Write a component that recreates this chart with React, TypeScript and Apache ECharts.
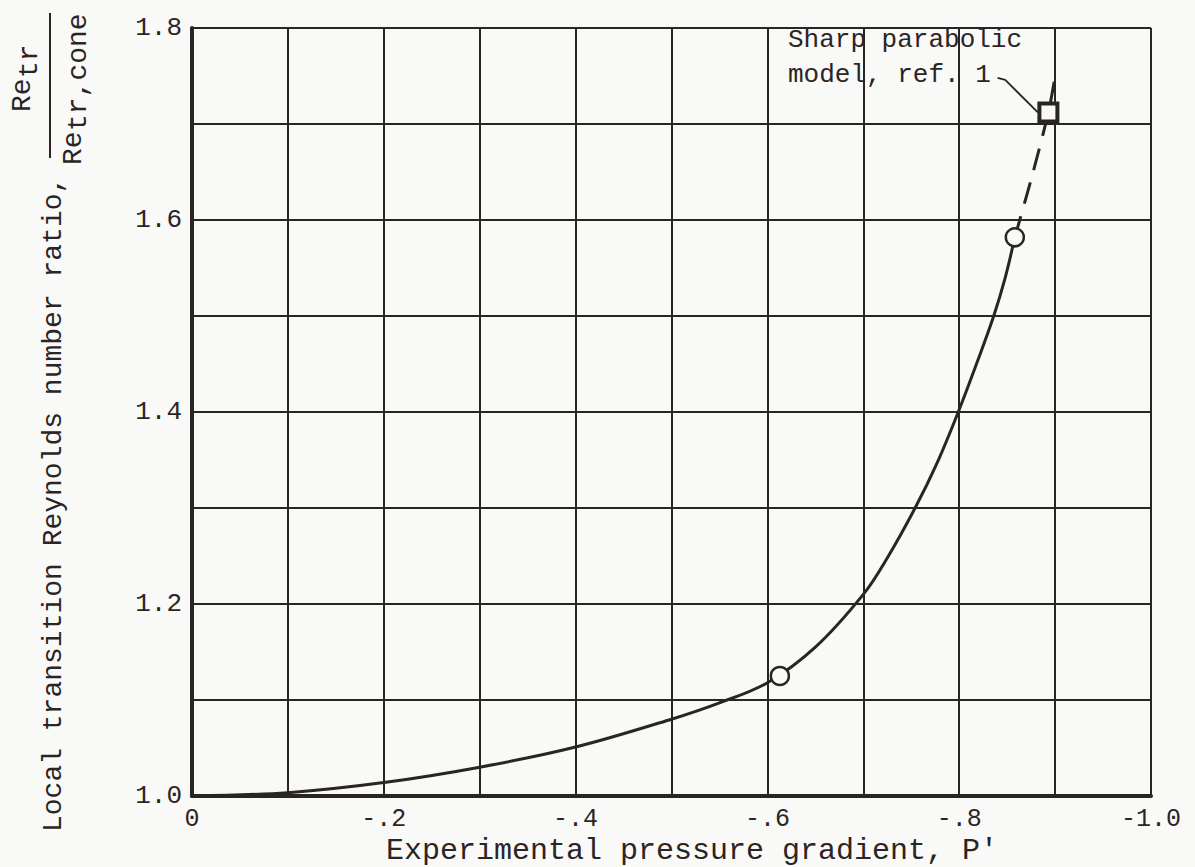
import React, { useEffect, useRef } from "react";
import * as echarts from "echarts";

// ---- data ----
const xTickLabels = ["0", "-.2", "-.4", "-.6", "-.8", "-1.0"];
const yTickLabels = ["1.0", "1.2", "1.4", "1.6", "1.8"];

// faired curve (solid part)
const solidCurveX = [0, -0.1, -0.2, -0.3, -0.4, -0.5, -0.55, -0.6, -0.65, -0.7, -0.725, -0.754, -0.777, -0.799, -0.818, -0.836, -0.848, -0.858];
const solidCurveY = [1.0, 1.0035, 1.014, 1.03, 1.051, 1.08, 1.097, 1.118, 1.155, 1.21, 1.248, 1.3, 1.347, 1.4, 1.45, 1.5, 1.54, 1.582];

// extrapolated curve (dashed part)
const dashedCurveX = [-0.858, -0.876, -0.893, -0.899];
const dashedCurveY = [1.582, 1.646, 1.712, 1.744];

// experimental points (circles)
const expX = [-0.613, -0.858];
const expY = [1.125, 1.582];

// sharp parabolic model, ref. 1 (square)
const refX = [-0.893];
const refY = [1.712];

// leader line from annotation to square
const leaderX = [-0.84, -0.848, -0.882];
const leaderY = [1.748, 1.746, 1.712];

const zip = (xs: number[], ys: number[]) => xs.map((x, i) => [x, ys[i]]);

const ink = "#2a2525";
const paper = "#f9f9f7";
const mono = "'Liberation Mono', 'DejaVu Sans Mono', monospace";

export default function App() {
  const ref = useRef<HTMLDivElement>(null);

  useEffect(() => {
    if (!ref.current) return;
    const chart = echarts.init(ref.current, undefined, { renderer: "svg" });

    const rotText = (text: string, x: number, y: number, size = 28) => ({
      type: "text",
      x,
      y,
      rotation: Math.PI / 2,
      style: {
        text,
        font: `${size}px ${mono}`,
        fill: ink,
        textAlign: "left",
        textVerticalAlign: "middle",
      },
      silent: true,
    });

    const option: any = {
      animation: false,
      backgroundColor: paper,
      grid: { left: 192, right: 44, top: 28, bottom: 71, containLabel: false },
      xAxis: {
        type: "value",
        min: -1,
        max: 0,
        interval: 0.1,
        inverse: true,
        axisLine: { show: true, onZero: false, lineStyle: { color: ink, width: 4 } },
        axisTick: { show: false },
        splitLine: { show: true, lineStyle: { color: ink, width: 2 } },
        axisLabel: {
          margin: 11,
          fontFamily: mono,
          fontSize: 25,
          color: ink,
          showMinLabel: true,
          showMaxLabel: true,
          formatter: (v: number) => {
            const k = Math.round(-v * 10);
            if (k % 2 !== 0) return "";
            return xTickLabels[k / 2] ?? "";
          },
        },
      },
      yAxis: {
        type: "value",
        min: 1.0,
        max: 1.8,
        interval: 0.1,
        axisLine: { show: true, onZero: false, lineStyle: { color: ink, width: 4 } },
        axisTick: { show: false },
        splitLine: { show: true, lineStyle: { color: ink, width: 2 } },
        axisLabel: {
          margin: 10,
          fontFamily: mono,
          fontSize: 26,
          color: ink,
          showMinLabel: true,
          showMaxLabel: true,
          formatter: (v: number) => {
            const k = Math.round((v - 1) * 10);
            if (k % 2 !== 0) return "";
            return yTickLabels[k / 2] ?? "";
          },
        },
      },
      series: [
        {
          name: "curve",
          type: "line",
          data: zip(solidCurveX, solidCurveY),
          smooth: 0.35,
          symbol: "none",
          lineStyle: { color: ink, width: 3 },
          z: 3,
        },
        {
          name: "extrapolation",
          type: "line",
          data: zip(dashedCurveX, dashedCurveY),
          smooth: 0.3,
          symbol: "none",
          lineStyle: { color: ink, width: 3, type: [22, 13] },
          z: 3,
        },
        {
          name: "leader",
          type: "line",
          data: zip(leaderX, leaderY),
          symbol: "none",
          lineStyle: { color: ink, width: 1.8 },
          z: 3,
        },
        {
          name: "experiment",
          type: "scatter",
          data: zip(expX, expY),
          symbol: "circle",
          symbolSize: 18,
          itemStyle: { color: paper, borderColor: ink, borderWidth: 2.5, opacity: 1 },
          z: 5,
        },
        {
          name: "Sharp parabolic model, ref. 1",
          type: "scatter",
          data: zip(refX, refY),
          symbol: "rect",
          symbolSize: 18,
          itemStyle: { color: paper, borderColor: ink, borderWidth: 4, opacity: 1 },
          z: 5,
        },
      ],
      graphic: [
        // x axis title
        {
          type: "text",
          x: 386,
          y: 851,
          style: {
            text: "Experimental pressure gradient, P'",
            font: `30px ${mono}`,
            fill: ink,
            textAlign: "left",
            textVerticalAlign: "middle",
          },
          silent: true,
        },
        // y axis title (rotated)
        rotText("Local transition Reynolds number ratio,", 53, 832),
        // fraction numerator Re_tr
        rotText("Re", 22, 112),
        rotText("tr", 29, 78),
        // fraction bar
        {
          type: "line",
          shape: { x1: 50, y1: 13, x2: 50, y2: 158 },
          style: { stroke: ink, lineWidth: 2 },
          silent: true,
        },
        // denominator Re_tr,cone
        rotText("Re", 73, 165),
        rotText("tr,cone", 78, 131),
        // annotation
        {
          type: "text",
          x: 788,
          y: 40,
          style: {
            text: "Sharp parabolic",
            font: `26px ${mono}`,
            fill: ink,
            textAlign: "left",
            textVerticalAlign: "middle",
          },
          silent: true,
        },
        {
          type: "text",
          x: 788,
          y: 75,
          style: {
            text: "model, ref. 1",
            font: `26px ${mono}`,
            fill: ink,
            textAlign: "left",
            textVerticalAlign: "middle",
          },
          silent: true,
        },
      ],
    };

    chart.setOption(option);
    return () => chart.dispose();
  }, []);

  return (
    <div
      ref={ref}
      style={{ position: "fixed", left: 0, top: 0, width: 1195, height: 867 }}
    />
  );
}
